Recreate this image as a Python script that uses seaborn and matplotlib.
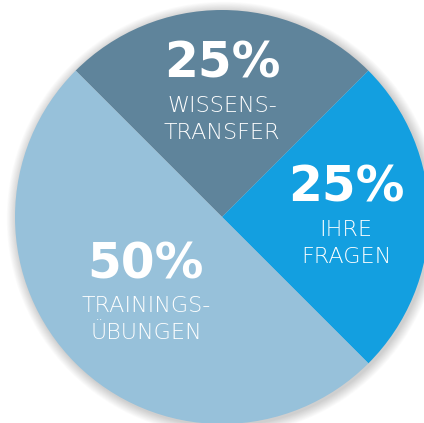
import numpy as np
import matplotlib
matplotlib.use("Agg")
import matplotlib.pyplot as plt
import seaborn as sns
from matplotlib.patches import Circle

sns.set_theme(style="white")
plt.rcParams['font.family'] = ['DejaVu Sans']

# Data
categories = ["WISSENS-\nTRANSFER", "IHRE\nFRAGEN", "TRAININGS-\nÜBUNGEN"]
values = [25, 25, 50]
pct_labels = ["25%", "25%", "50%"]
colors = ["#5f849b", "#139fe0", "#97c1da"]
label_radius = [0.60, 0.60, 0.52]

W, H = 424, 423
dpi = 100
fig = plt.figure(figsize=(W / dpi, H / dpi), dpi=dpi)
ax = fig.add_axes([0, 0, 1, 1])
fig.patch.set_facecolor("white")

R_PX = 207.0
CX, CY = 222.0, 217.0

# soft shadow
for i in range(12):
    ax.add_patch(Circle((0.008, -0.008), 1.0 + 0.004 * (i + 1), color="black",
                        alpha=0.014, lw=0, zorder=0))

wedges, _ = ax.pie(values, colors=colors, startangle=135, counterclock=False,
                   radius=1.0, center=(0, 0), frame=True,
                   wedgeprops=dict(linewidth=0))
ax.set_xlim(-CX / R_PX, (W - CX) / R_PX)
ax.set_ylim((CY - H) / R_PX, CY / R_PX)
ax.set_aspect("equal")
ax.axis("off")

px = 1.0 / R_PX
for w, pct, cat, r in zip(wedges, pct_labels, categories, label_radius):
    mid = np.deg2rad((w.theta1 + w.theta2) / 2)
    bx, by = r * np.cos(mid), r * np.sin(mid)
    ax.text(bx, by + 29 * px, pct, ha="center", va="center", color="white",
            fontsize=35, fontweight="bold", zorder=5)
    l1, l2 = cat.split("\n")
    ax.text(bx, by - 13 * px, l1, ha="center", va="center", color="white",
            fontsize=16, fontweight="light", zorder=5)
    ax.text(bx, by - 40 * px, l2, ha="center", va="center", color="white",
            fontsize=16, fontweight="light", zorder=5)

fig.savefig("out.png", dpi=dpi, facecolor="white")
